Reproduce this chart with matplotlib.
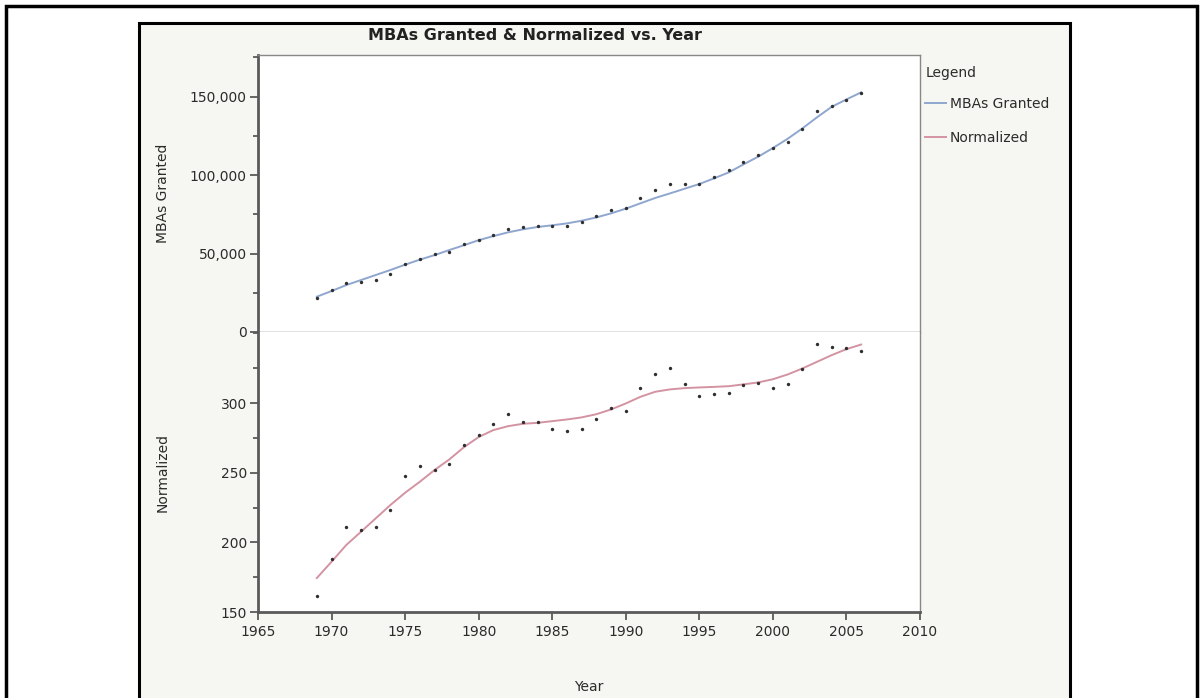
import matplotlib
matplotlib.use("Agg")
import matplotlib.pyplot as plt
from matplotlib.patches import Rectangle
from matplotlib.ticker import FuncFormatter, MultipleLocator

# ---------------- data ----------------
years = list(range(1969, 2007))

mbas_granted = [21700, 26700, 31400, 31800, 33100, 36900, 43300, 46500, 49500, 51000,
                55800, 58600, 62000, 65400, 66700, 67700, 67700, 67700, 69900, 74100,
                77500, 79200, 85400, 90200, 94100, 94100, 94500, 98500, 103000, 108500,
                112700, 117000, 121000, 129100, 141000, 144200, 147800, 152200]

mbas_fit = [22500, 26100, 29900, 33100, 36300, 39500, 42900, 46100, 49000, 52200,
            55300, 58500, 61100, 63500, 65400, 66900, 68000, 69200, 70900, 73000,
            75600, 78600, 82000, 85400, 88300, 91300, 94300, 97900, 101700, 106800,
            111700, 117200, 123100, 129700, 136800, 143500, 148200, 152700]

normalized = [161.5, 187.8, 210.8, 208.6, 211.2, 223.0, 247.8, 254.5, 251.9, 256.2,
              269.8, 277.0, 284.9, 291.8, 286.1, 286.1, 281.3, 279.6, 281.5, 288.7,
              296.1, 294.2, 310.5, 320.5, 324.8, 313.8, 304.7, 306.6, 307.3, 313.1,
              314.5, 310.5, 313.4, 324.3, 342.3, 340.3, 339.2, 337.2]

normalized_fit = [174.4, 186.1, 198.1, 207.6, 217.2, 226.8, 235.6, 243.5, 251.9, 259.5,
                  268.3, 275.6, 280.6, 283.4, 285.1, 285.8, 287.0, 288.2, 289.7, 292.0,
                  295.4, 299.7, 304.5, 308.1, 309.8, 310.7, 311.2, 311.6, 312.1, 313.4,
                  314.8, 317.1, 320.5, 324.8, 329.6, 334.4, 338.7, 342.0]

x_ticks = [1965, 1970, 1975, 1980, 1985, 1990, 1995, 2000, 2005, 2010]
top_ticks = [0, 50000, 100000, 150000]
bottom_ticks = [150, 200, 250, 300]

title = "MBAs Granted & Normalized vs. Year"
series_names = ["MBAs Granted", "Normalized"]

# ---------------- styling ----------------
W, H = 1202, 698
DPI = 100
BLUE = "#8fa6cf"
PINK = "#d493a2"
DOT = "#2f2f2f"
AXC = "#5a5a5a"
TXT = "#2b2b2b"
PANEL = "#f6f6f2"

plt.rcParams["font.family"] = ["DejaVu Sans"]

fig = plt.figure(figsize=(W / DPI, H / DPI), dpi=DPI)
fig.patch.set_facecolor("white")


def fx(px):
    return px / W


def fy(py):
    return 1 - py / H


# outer and inner frames (drawn beneath the axes)
fig.patches.append(Rectangle((fx(6), fy(702)), fx(1197) - fx(6), fy(6) - fy(702),
                             transform=fig.transFigure, facecolor="white",
                             edgecolor="black", linewidth=2.5, zorder=-3))
fig.patches.append(Rectangle((fx(139), fy(702)), fx(1070) - fx(139), fy(23) - fy(702),
                             transform=fig.transFigure, facecolor=PANEL,
                             edgecolor="black", linewidth=2.2, zorder=-2))

L, R = 258, 920
TOP, MID, BOT = 55, 332, 612

ax1 = fig.add_axes([fx(L), fy(MID), fx(R) - fx(L), fy(TOP) - fy(MID)])
ax2 = fig.add_axes([fx(L), fy(BOT), fx(R) - fx(L), fy(MID) - fy(BOT)], sharex=ax1)

for ax in (ax1, ax2):
    ax.set_facecolor("white")
    ax.spines["left"].set_color(AXC)
    ax.spines["left"].set_linewidth(2.0)
    ax.spines["right"].set_color("#888888")
    ax.spines["right"].set_linewidth(1.0)
    ax.spines["top"].set_color("#888888")
    ax.spines["top"].set_linewidth(1.0)
    ax.spines["bottom"].set_color(AXC)
    ax.spines["bottom"].set_linewidth(2.0)
    ax.tick_params(axis="y", which="major", direction="out", length=6, width=1.3,
                   color=AXC, labelsize=10, labelcolor=TXT, pad=2)
    ax.tick_params(axis="y", which="minor", direction="out", length=3.5, width=1.3,
                   color=AXC)

ax1.spines["bottom"].set_visible(False)
ax2.spines["top"].set_visible(False)

# top panel
line1, = ax1.plot(years, mbas_fit, color=BLUE, linewidth=1.4, zorder=2, label=series_names[0])
ax1.scatter(years, mbas_granted, s=6, color=DOT, zorder=3, linewidths=0)
ax1.axhline(0, color="#dcdcdc", linewidth=1.2, zorder=1)
ax1.set_ylim(0, 176500)
ax1.set_yticks(top_ticks)
ax1.yaxis.set_minor_locator(MultipleLocator(25000))
ax1.yaxis.set_major_formatter(FuncFormatter(lambda v, p: f"{int(v):,}"))
ax1.tick_params(axis="x", which="both", bottom=False, labelbottom=False)
ax1.set_ylabel("MBAs Granted", fontsize=10, color=TXT)

# bottom panel
line2, = ax2.plot(years, normalized_fit, color=PINK, linewidth=1.4, zorder=2, label=series_names[1])
ax2.scatter(years, normalized, s=6, color=DOT, zorder=3, linewidths=0)
ax2.set_ylim(150, 351)
ax2.set_yticks(bottom_ticks)
ax2.yaxis.set_minor_locator(MultipleLocator(25))
ax2.set_xlim(1965, 2010)
ax2.set_xticks(x_ticks)
ax2.tick_params(axis="x", which="major", direction="out", length=6, width=1.3,
                color=AXC, labelsize=10, labelcolor=TXT, pad=3)
ax2.set_ylabel("Normalized", fontsize=10, color=TXT)
ax2.set_xlabel("Year", fontsize=10, color=TXT)

# title
fig.text(fx(535), fy(35), title, ha="center", va="center", fontsize=11.5,
         fontweight="bold", color="#222222")

# legend
fig.text(fx(926), fy(73), "Legend", ha="left", va="center", fontsize=10, color=TXT)
leg = fig.legend(handles=[line1, line2], labels=series_names,
                 loc="upper left", bbox_to_anchor=(fx(925), fy(97)),
                 frameon=False, fontsize=10,
                 handlelength=1.5, handletextpad=0.3, labelspacing=1.45,
                 borderpad=0, borderaxespad=0)
for t in leg.get_texts():
    t.set_color(TXT)

# fixed label positions
for ax, yc in ((ax1, (TOP + MID) / 2), (ax2, (MID + BOT) / 2)):
    ax.yaxis.set_label_coords(fx(163), fy(yc), transform=fig.transFigure)
    ax.yaxis.label.set_va("center")
ax2.xaxis.set_label_coords(fx((L + R) / 2), fy(687), transform=fig.transFigure)
ax2.xaxis.label.set_va("center")

fig.savefig("out.png", dpi=DPI)
